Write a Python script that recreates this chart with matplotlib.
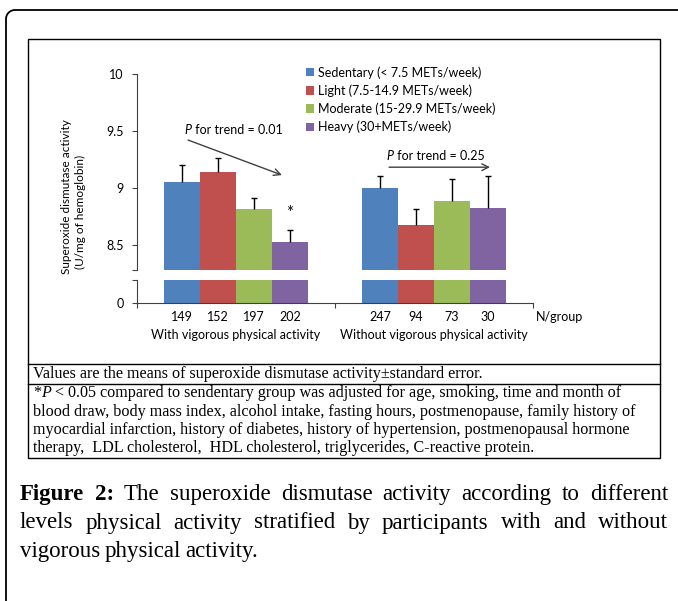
import numpy as np
import matplotlib
matplotlib.use("Agg")
import matplotlib.pyplot as plt
from matplotlib.patches import Patch, Rectangle
from matplotlib.lines import Line2D
from matplotlib.transforms import blended_transform_factory

# data
groups = ["With vigorous physical activity", "Without vigorous physical activity"]
levels = ["Sedentary (< 7.5 METs/week)", "Light (7.5-14.9 METs/week)",
          "Moderate (15-29.9 METs/week)", "Heavy (30+METs/week)"]
colors = ["#4F81BD", "#C0504D", "#9BBB59", "#8064A2"]
means = [[9.05, 9.00],   # sedentary
         [9.14, 8.67],   # light
         [8.81, 8.88],   # moderate
         [8.52, 8.82]]   # heavy
se = [[0.15, 0.10],
      [0.12, 0.14],
      [0.10, 0.20],
      [0.11, 0.28]]
n_group = [[149, 247], [152, 94], [197, 73], [202, 30]]
p_trend = ["0.01", "0.25"]

W, H = 678, 601
fig = plt.figure(figsize=(W / 100, H / 100), dpi=100)
plt.rcParams['font.family'] = ['Lato', 'DejaVu Sans']
serif = ["Liberation Serif", "DejaVu Serif"]
fs = 9


def fbox(x0, y0, x1, y1):
    # pixel box (top-left origin) -> figure fraction
    return [x0 / W, 1 - y1 / H, (x1 - x0) / W, (y1 - y0) / H]


ax = fig.add_axes(fbox(137, 73.7, 533, 269.7))
axl = fig.add_axes(fbox(137, 279.7, 533, 302.7))

x = np.arange(len(groups))
bw = 36 / 198
for i in range(len(levels)):
    off = (i - 1.5) * bw
    for a in (ax, axl):
        a.bar(x + off, means[i], bw, color=colors[i], zorder=2)
    _, caps, _ = ax.errorbar(x + off, means[i], yerr=[np.zeros(2), se[i]],
                             fmt="none", ecolor="black", elinewidth=1,
                             capsize=2.5, capthick=1, zorder=3)
    caps[0].set_visible(False)

ymin = 8.281
ax.set_ylim(ymin, 10)
axl.set_ylim(0, 0.2)
for a in (ax, axl):
    a.set_xlim(-0.5, 1.5)
    for s in ("top", "right"):
        a.spines[s].set_visible(False)
    a.spines["left"].set_color("#404040")
    a.tick_params(axis="y", direction="out", length=3.5, color="#404040",
                  labelsize=fs, pad=6)
ax.spines["bottom"].set_visible(False)
ax.set_xticks([])
ax.set_yticks([ymin, 8.5, 9, 9.5, 10])
ax.set_yticklabels(["", "8.5", "9", "9.5", "10"])
axl.set_yticks([0, 0.2])
axl.set_yticklabels(["0", ""])
axl.spines["bottom"].set_color("#404040")
axl.set_xticks([-0.5, 0.5, 1.5])
axl.set_xticklabels([])
axl.tick_params(axis="x", direction="out", length=3.5, color="#404040")

# axis label
fig.text(66 / W, 1 - 197 / H, "Superoxide dismutase activity", rotation=90,
         ha="center", va="center", fontsize=8.5)
fig.text(80 / W, 1 - 212 / H, "(U/mg of hemoglobin)", rotation=90,
         ha="center", va="center", fontsize=8.5)

# N/group labels and group names
tr = blended_transform_factory(axl.transData, fig.transFigure)
for i in range(len(levels)):
    for j in range(len(groups)):
        axl.text(x[j] + (i - 1.5) * bw, 1 - 317 / H, str(n_group[i][j]),
                 transform=tr, ha="center", va="center", fontsize=fs)
for j, g in enumerate(groups):
    axl.text(x[j], 1 - 335 / H, g, transform=tr, ha="center", va="center",
             fontsize=fs)
fig.text(536 / W, 1 - 317 / H, "N/group", ha="left", va="center", fontsize=fs)

# trend annotations
ax.annotate("", xy=(0.232, 9.111), xytext=(-0.242, 9.418),
            arrowprops=dict(arrowstyle="->", color="#404040", lw=1,
                            shrinkA=0, shrinkB=0, mutation_scale=12))
ax.annotate("", xy=(1.283, 9.18), xytext=(0.773, 9.18),
            arrowprops=dict(arrowstyle="->", color="#404040", lw=1,
                            shrinkA=0, shrinkB=0, mutation_scale=12))
ax.text(1.5 * bw, means[3][0] + se[3][0] + 0.15, "*", ha="center",
        va="center", fontsize=12)

# legend
handles = [Patch(facecolor=c) for c in colors]
fig.legend(handles, levels, loc="upper left",
           bbox_to_anchor=(306 / W, 1 - 66 / H), frameon=False,
           fontsize=fs, handlelength=0.65, handleheight=0.65,
           handletextpad=0.3, labelspacing=0.45, borderaxespad=0,
           borderpad=0)

fig.canvas.draw()
renderer = fig.canvas.get_renderer()


def rich(x0, y, pieces, va="center", **kw):
    # pieces: list of (text, extra kwargs); placed one after another
    xp = x0
    for t, extra in pieces:
        a = fig.text(xp / W, y, t, va=va, **{**kw, **extra})
        xp += a.get_window_extent(renderer).width


# P for trend labels, centred on their arrows
for cx, cy, p in [(234, 130, p_trend[0]), (436, 156, p_trend[1])]:
    tmp = fig.text(0, 0, "P for trend = " + p, fontsize=fs)
    wd = tmp.get_window_extent(renderer).width
    tmp.remove()
    rich(cx - wd / 2, 1 - cy / H, [("P", {"style": "italic"}),
                                   (" for trend = " + p, {})], fontsize=fs)

# page frame, chart box and notes table
ang = np.linspace(np.pi / 2, np.pi, 20)
r = 9
fx = np.concatenate([[W + 2], 6 + r + r * np.cos(ang), [6]])
fy = np.concatenate([[10], 10 + r - r * np.sin(ang), [H + 2]])
fig.add_artist(Line2D(fx / W, 1 - fy / H, transform=fig.transFigure,
                      color="black", lw=1.3))
fig.add_artist(Rectangle((28 / W, 1 - 458 / H), (660 - 28) / W, (458 - 39) / H,
                         transform=fig.transFigure, fill=False,
                         edgecolor="black", lw=1))
for yy in (364, 384):
    fig.add_artist(Line2D([28 / W, 660 / W], [1 - yy / H, 1 - yy / H],
                          transform=fig.transFigure, color="black", lw=1))

tfs = 11.6
fig.text(33 / W, 1 - 378 / H,
         "Values are the means of superoxide dismutase activity\u00b1standard error.",
         family=serif, fontsize=tfs, va="baseline")
rich(33, 1 - 397 / H,
     [("*", {}), ("P", {"style": "italic"}),
      (" < 0.05 compared to sendentary group was adjusted for age, smoking, time and month of", {})],
     va="baseline", family=serif, fontsize=tfs)
notes = ["blood draw, body mass index, alcohol intake, fasting hours, postmenopause, family history of",
         "myocardial infarction, history of diabetes, history of hypertension, postmenopausal hormone",
         "therapy,  LDL cholesterol,  HDL cholesterol, triglycerides, C-reactive protein."]
for k, t in enumerate(notes):
    fig.text(33 / W, 1 - (415.5 + 18.3 * k) / H, t, family=serif, fontsize=tfs,
             va="baseline")

# caption, justified
cap = ["Figure 2: The superoxide dismutase activity according to different",
       "levels physical activity stratified by participants with and without",
       "vigorous physical activity."]
for k, line in enumerate(cap):
    y = 1 - (500 + 28.5 * k) / H
    words = line.split(" ")
    arts = []
    for w_i, w in enumerate(words):
        bold = k == 0 and w_i < 2
        arts.append(fig.text(0, y, w, family=serif, fontsize=16.5,
                             va="baseline",
                             weight="bold" if bold else "normal"))
    widths = [a.get_window_extent(renderer).width for a in arts]
    if k < len(cap) - 1:
        gap = (668 - 20 - sum(widths)) / (len(words) - 1)
    else:
        gap = 4.5
    xp = 20
    for a, wd in zip(arts, widths):
        a.set_x(xp / W)
        xp += wd + gap

fig.savefig("out.png", dpi=100)
